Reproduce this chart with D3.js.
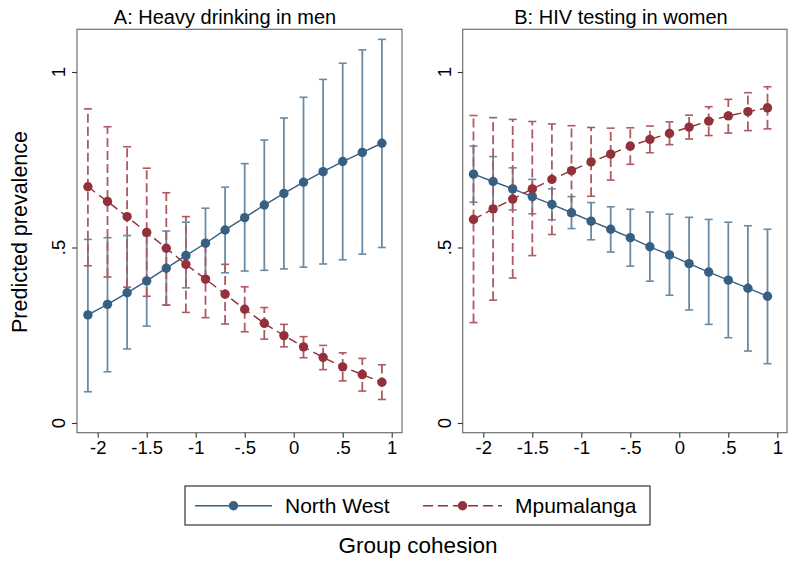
<!DOCTYPE html>
<html><head><meta charset="utf-8">
<script src="https://cdn.jsdelivr.net/npm/d3@7"></script>
<style>
body{margin:0;background:#fff}
text{font-family:"Liberation Sans",Arial,Helvetica,sans-serif;fill:#000}
</style>
</head><body>
<svg id="chart" width="797" height="568"></svg>
<script>
// ---------- data ----------
const cohesion = [-2.1,-1.9,-1.7,-1.5,-1.3,-1.1,-0.9,-0.7,-0.5,-0.3,-0.1,0.1,0.3,0.5,0.7,0.9];
const xTicks = [-2,-1.5,-1,-0.5,0,0.5,1];
const xTickLabels = ["-2","-1.5","-1","-.5","0",".5","1"];
const yTicks = [0,0.5,1];
const yTickLabels = ["0",".5","1"];
const seriesNames = ["North West","Mpumalanga"];
const panelTitles = ["A: Heavy drinking in men","B: HIV testing in women"];

// Panel A: heavy drinking in men
const drinkNW   = [0.308,0.338,0.371,0.405,0.441,0.477,0.512,0.550,0.585,0.621,0.654,0.686,0.716,0.745,0.771,0.797];
const drinkNWlo = [0.089,0.146,0.211,0.276,0.336,0.385,0.417,0.428,0.433,0.435,0.439,0.444,0.453,0.465,0.481,0.500];
const drinkNWhi = [0.523,0.528,0.534,0.534,0.547,0.572,0.612,0.672,0.739,0.806,0.869,0.928,0.979,1.025,1.063,1.093];
const drinkMP   = [0.673,0.631,0.588,0.543,0.498,0.452,0.410,0.367,0.324,0.284,0.249,0.217,0.187,0.160,0.138,0.116];
const drinkMPlo = [0.448,0.416,0.387,0.361,0.336,0.315,0.300,0.282,0.260,0.239,0.217,0.186,0.152,0.120,0.091,0.067];
const drinkMPhi = [0.895,0.844,0.787,0.726,0.656,0.588,0.520,0.452,0.388,0.329,0.281,0.246,0.221,0.200,0.184,0.166];

// Panel B: HIV testing in women
const hivNW   = [0.709,0.688,0.667,0.645,0.623,0.599,0.575,0.552,0.528,0.502,0.479,0.454,0.430,0.407,0.384,0.361];
const hivNWlo = [0.629,0.617,0.607,0.596,0.579,0.554,0.522,0.487,0.447,0.404,0.364,0.322,0.281,0.243,0.205,0.169];
const hivNWhi = [0.789,0.759,0.727,0.694,0.667,0.645,0.628,0.616,0.609,0.601,0.595,0.586,0.580,0.572,0.562,0.552];
const hivMP   = [0.580,0.610,0.638,0.667,0.694,0.719,0.744,0.766,0.789,0.808,0.825,0.843,0.860,0.875,0.887,0.898];
const hivMPlo = [0.286,0.350,0.413,0.477,0.537,0.591,0.646,0.692,0.737,0.770,0.793,0.809,0.819,0.826,0.833,0.838];
const hivMPhi = [0.876,0.870,0.865,0.859,0.852,0.847,0.842,0.840,0.841,0.846,0.858,0.877,0.901,0.922,0.941,0.958];

// ---------- styles ----------
const C = {
  nwLine:"#355f80", nwMark:"#365f81", nwCI:"#6a8aa4",
  mpLine:"#8f2f38", mpMark:"#93313b", mpCI:"#ae5a60",
  frame:"#707070"
};
const FONT_TICK = 18.5, FONT_TITLE = 20;

const svg = d3.select("#chart");
svg.append("rect").attr("width",797).attr("height",568).attr("fill","#fff");

const panels = [
  {title:panelTitles[0], titleX:225, frame:[77,402], xr:[97.7,391.7],
   series:[{m:drinkNW,lo:drinkNWlo,hi:drinkNWhi,k:"nw"},{m:drinkMP,lo:drinkMPlo,hi:drinkMPhi,k:"mp"}]},
  {title:panelTitles[1], titleX:621, frame:[462.7,787], xr:[483.3,777.3],
   series:[{m:hivNW,lo:hivNWlo,hi:hivNWhi,k:"nw"},{m:hivMP,lo:hivMPlo,hi:hivMPhi,k:"mp"}]}
];
const frameTop = 29.3, frameBot = 432.7;

panels.forEach(p => {
  const x = d3.scaleLinear().domain([-2,1]).range(p.xr);
  const y = d3.scaleLinear().domain([0,1]).range([423,72]);
  const g = svg.append("g");

  // frame
  g.append("rect").attr("x",p.frame[0]).attr("y",frameTop)
    .attr("width",p.frame[1]-p.frame[0]).attr("height",frameBot-frameTop)
    .attr("fill","none").attr("stroke",C.frame).attr("stroke-width",1.2);

  // x axis
  const xa = g.append("g").attr("transform",`translate(0,${frameBot})`)
    .call(d3.axisBottom(x).tickValues(xTicks).tickSize(5).tickPadding(3)
      .tickFormat((d,i)=>xTickLabels[i]));
  xa.select(".domain").remove();
  xa.selectAll(".tick line").attr("stroke","#333").attr("stroke-width",1.1);
  xa.selectAll(".tick text").attr("font-size",FONT_TICK).attr("font-family",null).attr("fill","#000");

  // y axis
  const ya = g.append("g").attr("transform",`translate(${p.frame[0]},0)`)
    .call(d3.axisLeft(y).tickValues(yTicks).tickSize(5).tickFormat(()=>""));
  ya.select(".domain").remove();
  ya.selectAll(".tick line").attr("stroke","#333").attr("stroke-width",1.1);
  yTicks.forEach((t,i)=>{
    g.append("text").attr("transform",`translate(${p.frame[0]-18},${y(t)}) rotate(-90)`)
      .attr("text-anchor","middle").attr("dy","0.35em").attr("font-size",FONT_TICK)
      .text(yTickLabels[i]);
  });

  // title
  svg.append("text").attr("x",p.titleX).attr("y",24).attr("text-anchor","middle")
    .attr("font-size",FONT_TITLE).text(p.title);

  // confidence intervals
  const capW = 4;
  p.series.forEach(s => {
    const col = s.k==="nw"?C.nwCI:C.mpCI;
    const dash = s.k==="nw"?null:"9,4";
    const cg = g.append("g");
    cohesion.forEach((c,i)=>{
      cg.append("line").attr("x1",x(c)).attr("x2",x(c)).attr("y1",y(s.lo[i])).attr("y2",y(s.hi[i]))
        .attr("stroke",col).attr("stroke-width",1.8).attr("stroke-dasharray",dash);
      [s.lo[i],s.hi[i]].forEach(v=>{
        cg.append("line").attr("x1",x(c)-capW).attr("x2",x(c)+capW).attr("y1",y(v)).attr("y2",y(v))
          .attr("stroke",col).attr("stroke-width",1.6);
      });
    });
  });

  // lines and markers
  p.series.forEach(s => {
    const lc = s.k==="nw"?C.nwLine:C.mpLine;
    const mc = s.k==="nw"?C.nwMark:C.mpMark;
    const line = d3.line().x((d,i)=>x(cohesion[i])).y(d=>y(d));
    g.append("path").datum(s.m).attr("d",line).attr("fill","none")
      .attr("stroke",lc).attr("stroke-width",1.4)
      .attr("stroke-dasharray",s.k==="nw"?null:"9,5");
    g.selectAll(null).data(s.m).enter().append("circle")
      .attr("cx",(d,i)=>x(cohesion[i])).attr("cy",d=>y(d)).attr("r",4.7).attr("fill",mc);
  });
});

// y axis title
svg.append("text").attr("transform","translate(19,232) rotate(-90)")
  .attr("text-anchor","middle").attr("dy","0.35em").attr("font-size",21.5).text("Predicted prevalence");

// legend
const lg = svg.append("g");
lg.append("rect").attr("x",185).attr("y",486).attr("width",465).attr("height",39)
  .attr("fill","#fff").attr("stroke","#222").attr("stroke-width",1.1);
const legItems = [
  {name:seriesNames[0], x1:195, x2:272, tx:285, lc:C.nwLine, mc:C.nwMark, dash:null},
  {name:seriesNames[1], x1:423, x2:502, tx:515, lc:C.mpLine, mc:C.mpMark, dash:"10,5"}
];
legItems.forEach(it=>{
  lg.append("line").attr("x1",it.x1).attr("x2",it.x2).attr("y1",505.7).attr("y2",505.7)
    .attr("stroke",it.lc).attr("stroke-width",1.5).attr("stroke-dasharray",it.dash);
  lg.append("circle").attr("cx",(it.x1+it.x2)/2).attr("cy",505.7).attr("r",4.7).attr("fill",it.mc);
  lg.append("text").attr("x",it.tx).attr("y",512.5).attr("font-size",21).text(it.name);
});

// x axis title
svg.append("text").attr("x",418).attr("y",553).attr("text-anchor","middle")
  .attr("font-size",22.5).text("Group cohesion");
</script>
</body></html>
